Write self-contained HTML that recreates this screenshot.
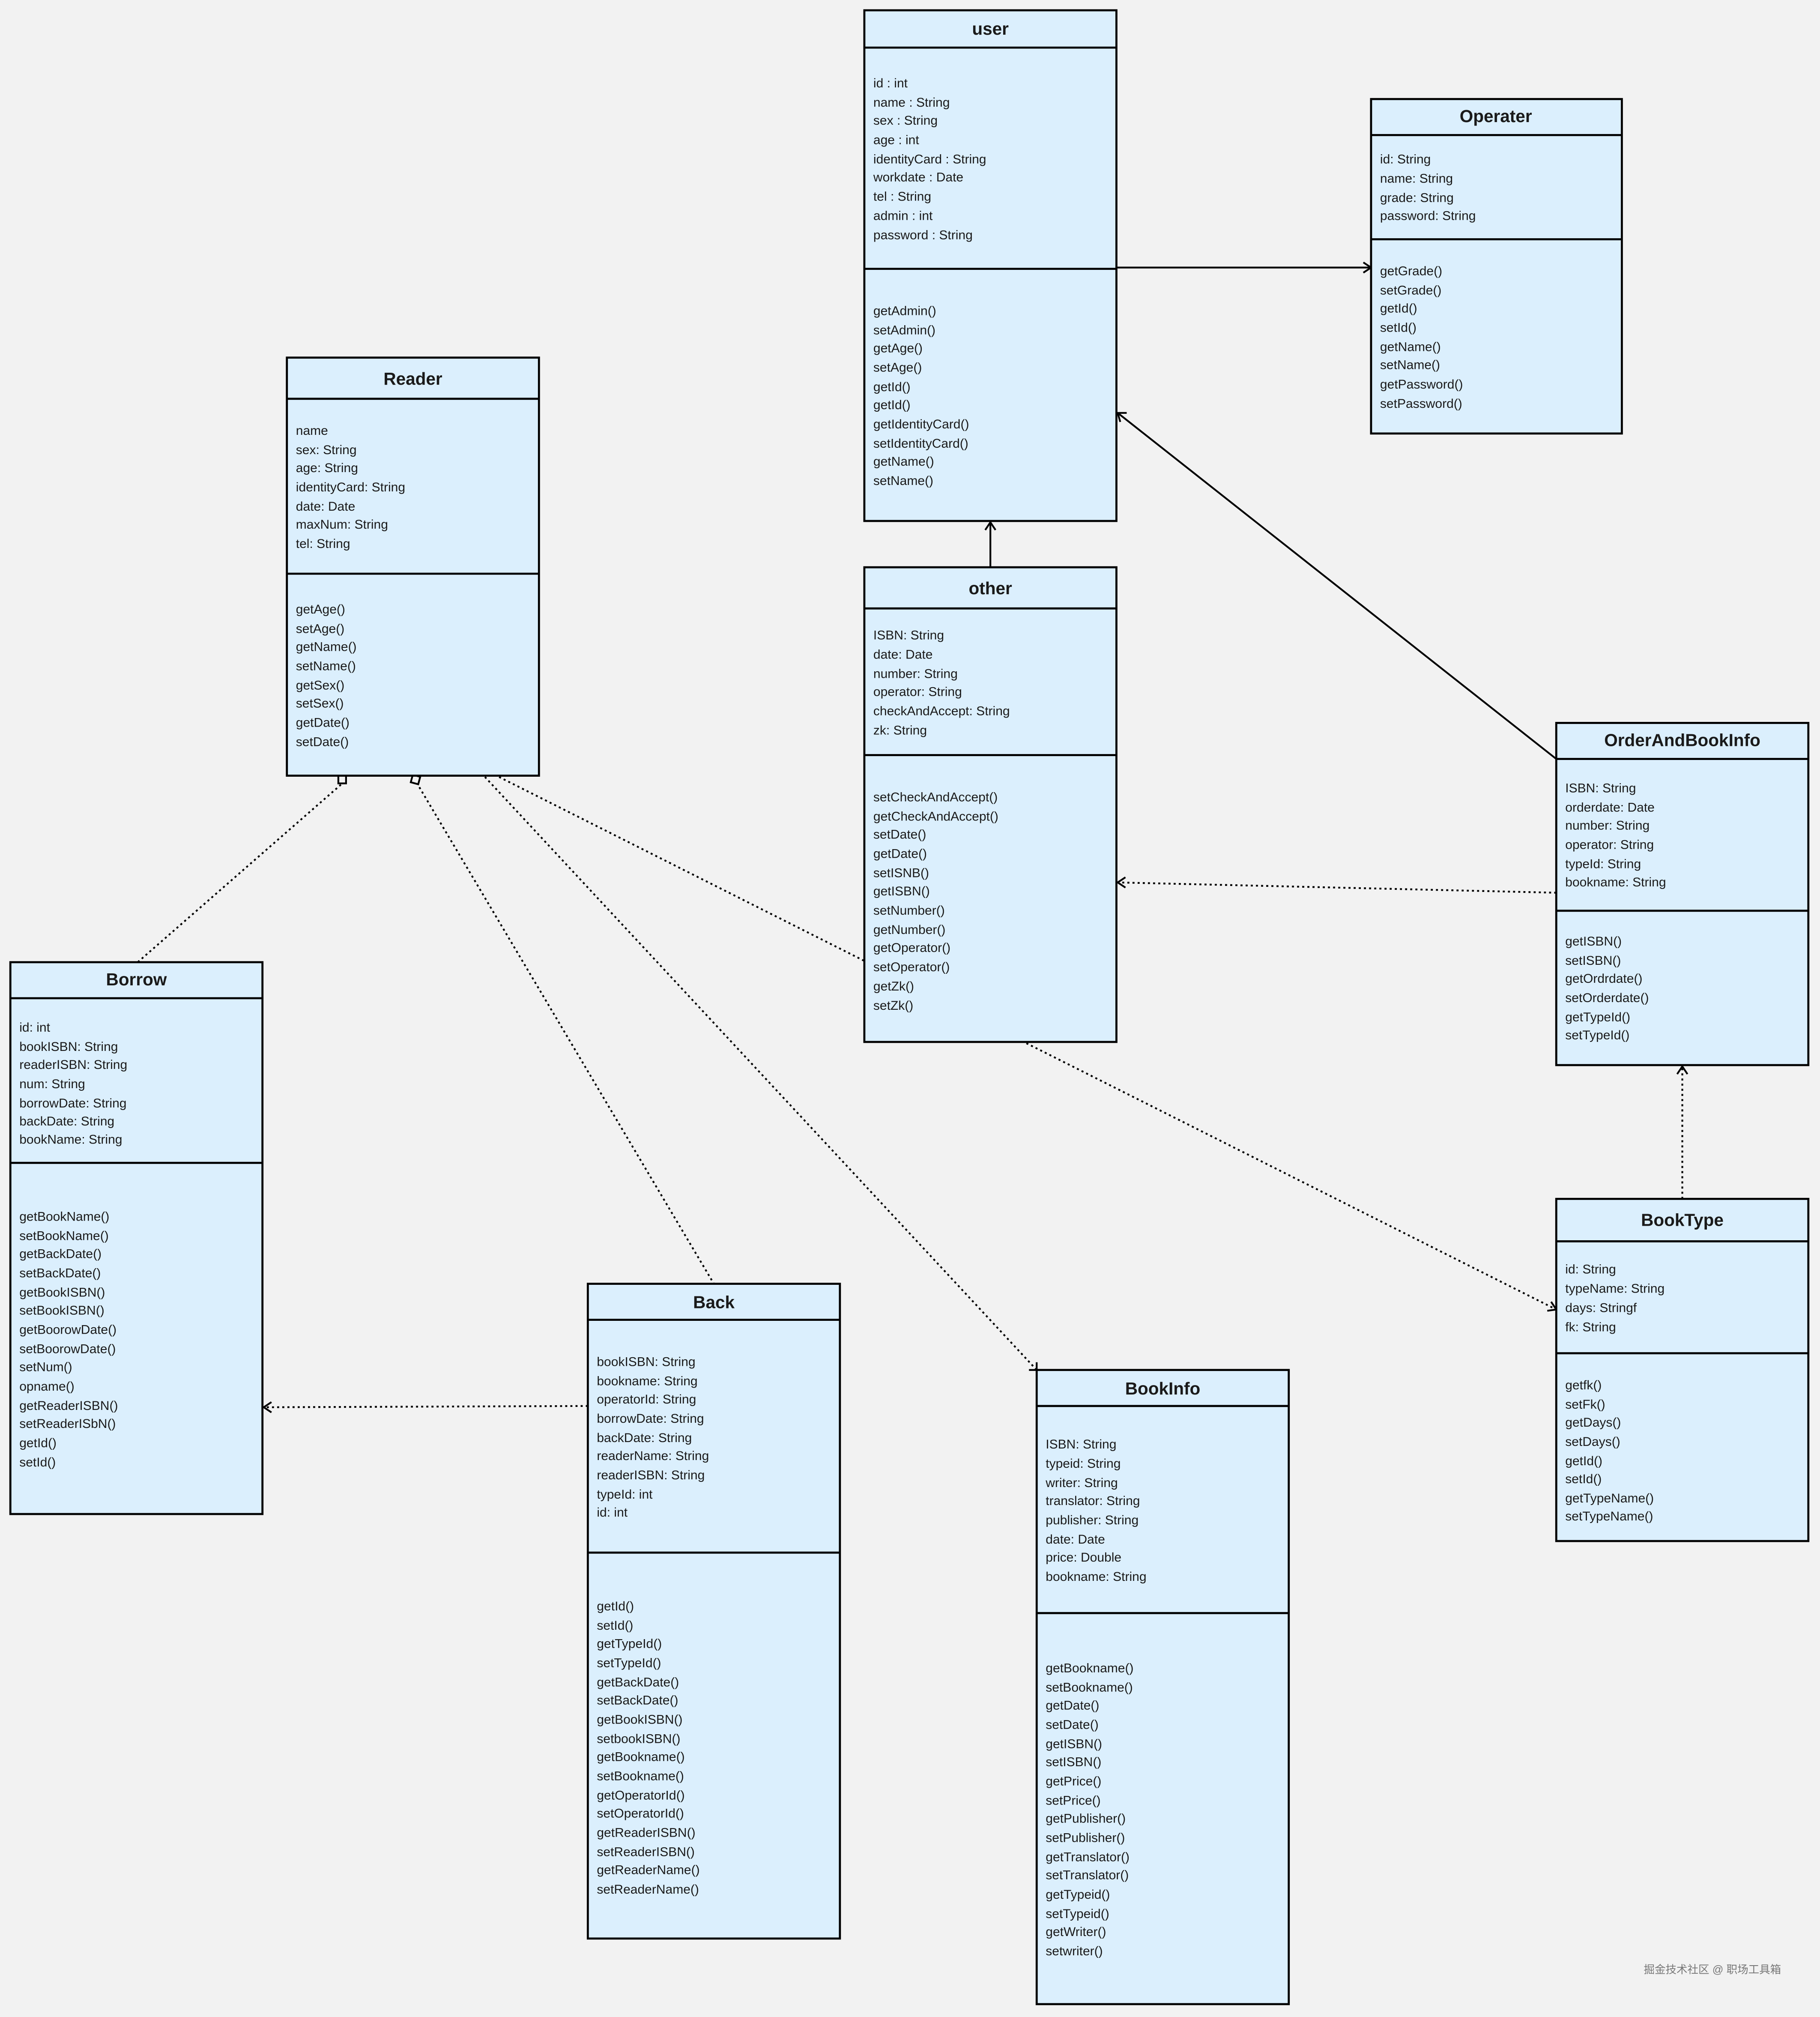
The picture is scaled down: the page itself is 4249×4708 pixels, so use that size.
<!DOCTYPE html>
<html><head><meta charset="utf-8"><style>
html,body{margin:0;padding:0;background:#f2f2f2;}
svg{display:block;}
text{font-family:"Liberation Sans","Noto Sans CJK SC",sans-serif;fill:#1a1a1a;}
.t{font-size:13.5px;font-weight:bold;text-anchor:middle;}
.a{font-size:10px;}
.box{fill:#dbeffd;stroke:#000;stroke-width:1.6;}
.ln{stroke:#000;stroke-width:1.6;}
.s{stroke:#000;stroke-width:1.4;fill:none;}
.d{stroke:#000;stroke-width:1.4;fill:none;stroke-dasharray:1.6 2.4;}
</style></head><body>
<svg width="4249" height="4708" viewBox="0 0 1415 1568" xmlns="http://www.w3.org/2000/svg">
<rect width="1415" height="1568" fill="#f2f2f2"/>

<!-- connectors -->
<line class="s" x1="868" y1="208" x2="1066" y2="208"/>
<polyline class="s" points="1060,204 1066,208 1060,212"/>
<line class="s" x1="770" y1="441" x2="770" y2="406"/>
<polyline class="s" points="766,412 770,406 774,412"/>
<line class="s" x1="1210" y1="590" x2="869" y2="321"/>
<polyline class="s" points="876,321 869,321 871,328"/>
<line class="d" x1="1210" y1="694" x2="869" y2="686"/>
<polyline class="s" points="875,682 869,686 875,690"/>
<line class="d" x1="1308" y1="932" x2="1308" y2="829"/>
<polyline class="s" points="1304,835 1308,829 1312,835"/>
<line class="d" x1="798" y1="811" x2="1210" y2="1018"/>
<polyline class="s" points="1203,1019 1210,1018 1206,1012"/>
<line class="d" x1="388" y1="604" x2="672" y2="747"/>
<line class="d" x1="377" y1="604" x2="806" y2="1065"/>
<polyline class="s" points="800,1065 806,1065 806,1059"/>
<line class="d" x1="326" y1="612" x2="555" y2="998"/>
<rect x="320" y="603" width="6" height="6" fill="#f2f2f2" stroke="#000" stroke-width="1.4" transform="rotate(15 323 606)"/>
<line class="d" x1="265" y1="610" x2="107" y2="748"/>
<rect x="263" y="603" width="6" height="6" fill="#f2f2f2" stroke="#000" stroke-width="1.4"/>
<line class="d" x1="457" y1="1093" x2="205" y2="1094"/>
<polyline class="s" points="211,1090 205,1094 211,1098"/>

<!-- user -->
<rect class="box" x="672" y="8" width="196" height="397"/>
<line class="ln" x1="672" y1="37" x2="868" y2="37"/><line class="ln" x1="672" y1="209" x2="868" y2="209"/>
<text class="t" x="770" y="27">user</text>
<g class="a"><text x="679" y="68">id : int</text><text x="679" y="83">name : String</text><text x="679" y="97">sex : String</text><text x="679" y="112">age : int</text><text x="679" y="127">identityCard : String</text><text x="679" y="141">workdate : Date</text><text x="679" y="156">tel : String</text><text x="679" y="171">admin : int</text><text x="679" y="186">password : String</text>
<text x="679" y="245">getAdmin()</text><text x="679" y="260">setAdmin()</text><text x="679" y="274">getAge()</text><text x="679" y="289">setAge()</text><text x="679" y="304">getId()</text><text x="679" y="318">getId()</text><text x="679" y="333">getIdentityCard()</text><text x="679" y="348">setIdentityCard()</text><text x="679" y="362">getName()</text><text x="679" y="377">setName()</text></g>

<!-- Operater -->
<rect class="box" x="1066" y="77" width="195" height="260"/>
<line class="ln" x1="1066" y1="105" x2="1261" y2="105"/><line class="ln" x1="1066" y1="186" x2="1261" y2="186"/>
<text class="t" x="1163" y="95">Operater</text>
<g class="a"><text x="1073" y="127">id: String</text><text x="1073" y="142">name: String</text><text x="1073" y="157">grade: String</text><text x="1073" y="171">password: String</text>
<text x="1073" y="214">getGrade()</text><text x="1073" y="229">setGrade()</text><text x="1073" y="243">getId()</text><text x="1073" y="258">setId()</text><text x="1073" y="273">getName()</text><text x="1073" y="287">setName()</text><text x="1073" y="302">getPassword()</text><text x="1073" y="317">setPassword()</text></g>

<!-- Reader -->
<rect class="box" x="223" y="278" width="196" height="325"/>
<line class="ln" x1="223" y1="310" x2="419" y2="310"/><line class="ln" x1="223" y1="446" x2="419" y2="446"/>
<text class="t" x="321" y="299">Reader</text>
<g class="a"><text x="230" y="338">name</text><text x="230" y="353">sex: String</text><text x="230" y="367">age: String</text><text x="230" y="382">identityCard: String</text><text x="230" y="397">date: Date</text><text x="230" y="411">maxNum: String</text><text x="230" y="426">tel: String</text>
<text x="230" y="477">getAge()</text><text x="230" y="492">setAge()</text><text x="230" y="506">getName()</text><text x="230" y="521">setName()</text><text x="230" y="536">getSex()</text><text x="230" y="550">setSex()</text><text x="230" y="565">getDate()</text><text x="230" y="580">setDate()</text></g>

<!-- other -->
<rect class="box" x="672" y="441" width="196" height="369"/>
<line class="ln" x1="672" y1="473" x2="868" y2="473"/><line class="ln" x1="672" y1="587" x2="868" y2="587"/>
<text class="t" x="770" y="462">other</text>
<g class="a"><text x="679" y="497">ISBN: String</text><text x="679" y="512">date: Date</text><text x="679" y="527">number: String</text><text x="679" y="541">operator: String</text><text x="679" y="556">checkAndAccept: String</text><text x="679" y="571">zk: String</text>
<text x="679" y="623">setCheckAndAccept()</text><text x="679" y="638">getCheckAndAccept()</text><text x="679" y="652">setDate()</text><text x="679" y="667">getDate()</text><text x="679" y="682">setISNB()</text><text x="679" y="696">getISBN()</text><text x="679" y="711">setNumber()</text><text x="679" y="726">getNumber()</text><text x="679" y="740">getOperator()</text><text x="679" y="755">setOperator()</text><text x="679" y="770">getZk()</text><text x="679" y="785">setZk()</text></g>

<!-- OrderAndBookInfo -->
<rect class="box" x="1210" y="562" width="196" height="266"/>
<line class="ln" x1="1210" y1="590" x2="1406" y2="590"/><line class="ln" x1="1210" y1="708" x2="1406" y2="708"/>
<text class="t" x="1308" y="580">OrderAndBookInfo</text>
<g class="a"><text x="1217" y="616">ISBN: String</text><text x="1217" y="631">orderdate: Date</text><text x="1217" y="645">number: String</text><text x="1217" y="660">operator: String</text><text x="1217" y="675">typeId: String</text><text x="1217" y="689">bookname: String</text>
<text x="1217" y="735">getISBN()</text><text x="1217" y="750">setISBN()</text><text x="1217" y="764">getOrdrdate()</text><text x="1217" y="779">setOrderdate()</text><text x="1217" y="794">getTypeId()</text><text x="1217" y="808">setTypeId()</text></g>

<!-- Borrow -->
<rect class="box" x="8" y="748" width="196" height="429"/>
<line class="ln" x1="8" y1="776" x2="204" y2="776"/><line class="ln" x1="8" y1="904" x2="204" y2="904"/>
<text class="t" x="106" y="766">Borrow</text>
<g class="a"><text x="15" y="802">id: int</text><text x="15" y="817">bookISBN: String</text><text x="15" y="831">readerISBN: String</text><text x="15" y="846">num: String</text><text x="15" y="861">borrowDate: String</text><text x="15" y="875">backDate: String</text><text x="15" y="889">bookName: String</text>
<text x="15" y="949">getBookName()</text><text x="15" y="964">setBookName()</text><text x="15" y="978">getBackDate()</text><text x="15" y="993">setBackDate()</text><text x="15" y="1008">getBookISBN()</text><text x="15" y="1022">setBookISBN()</text><text x="15" y="1037">getBoorowDate()</text><text x="15" y="1052">setBoorowDate()</text><text x="15" y="1066">setNum()</text><text x="15" y="1081">opname()</text><text x="15" y="1096">getReaderISBN()</text><text x="15" y="1110">setReaderISbN()</text><text x="15" y="1125">getId()</text><text x="15" y="1140">setId()</text></g>

<!-- Back -->
<rect class="box" x="457" y="998" width="196" height="509"/>
<line class="ln" x1="457" y1="1026" x2="653" y2="1026"/><line class="ln" x1="457" y1="1207" x2="653" y2="1207"/>
<text class="t" x="555" y="1017">Back</text>
<g class="a"><text x="464" y="1062">bookISBN: String</text><text x="464" y="1077">bookname: String</text><text x="464" y="1091">operatorId: String</text><text x="464" y="1106">borrowDate: String</text><text x="464" y="1121">backDate: String</text><text x="464" y="1135">readerName: String</text><text x="464" y="1150">readerISBN: String</text><text x="464" y="1165">typeId: int</text><text x="464" y="1179">id: int</text>
<text x="464" y="1252">getId()</text><text x="464" y="1267">setId()</text><text x="464" y="1281">getTypeId()</text><text x="464" y="1296">setTypeId()</text><text x="464" y="1311">getBackDate()</text><text x="464" y="1325">setBackDate()</text><text x="464" y="1340">getBookISBN()</text><text x="464" y="1355">setbookISBN()</text><text x="464" y="1369">getBookname()</text><text x="464" y="1384">setBookname()</text><text x="464" y="1399">getOperatorId()</text><text x="464" y="1413">setOperatorId()</text><text x="464" y="1428">getReaderISBN()</text><text x="464" y="1443">setReaderISBN()</text><text x="464" y="1457">getReaderName()</text><text x="464" y="1472">setReaderName()</text></g>

<!-- BookInfo -->
<rect class="box" x="806" y="1065" width="196" height="493"/>
<line class="ln" x1="806" y1="1093" x2="1002" y2="1093"/><line class="ln" x1="806" y1="1254" x2="1002" y2="1254"/>
<text class="t" x="904" y="1084">BookInfo</text>
<g class="a"><text x="813" y="1126">ISBN: String</text><text x="813" y="1141">typeid: String</text><text x="813" y="1156">writer: String</text><text x="813" y="1170">translator: String</text><text x="813" y="1185">publisher: String</text><text x="813" y="1200">date: Date</text><text x="813" y="1214">price: Double</text><text x="813" y="1229">bookname: String</text>
<text x="813" y="1300">getBookname()</text><text x="813" y="1315">setBookname()</text><text x="813" y="1329">getDate()</text><text x="813" y="1344">setDate()</text><text x="813" y="1359">getISBN()</text><text x="813" y="1373">setISBN()</text><text x="813" y="1388">getPrice()</text><text x="813" y="1403">setPrice()</text><text x="813" y="1417">getPublisher()</text><text x="813" y="1432">setPublisher()</text><text x="813" y="1447">getTranslator()</text><text x="813" y="1461">setTranslator()</text><text x="813" y="1476">getTypeid()</text><text x="813" y="1491">setTypeid()</text><text x="813" y="1505">getWriter()</text><text x="813" y="1520">setwriter()</text></g>

<!-- BookType -->
<rect class="box" x="1210" y="932" width="196" height="266"/>
<line class="ln" x1="1210" y1="965" x2="1406" y2="965"/><line class="ln" x1="1210" y1="1052" x2="1406" y2="1052"/>
<text class="t" x="1308" y="953">BookType</text>
<g class="a"><text x="1217" y="990">id: String</text><text x="1217" y="1005">typeName: String</text><text x="1217" y="1020">days: Stringf</text><text x="1217" y="1035">fk: String</text>
<text x="1217" y="1080">getfk()</text><text x="1217" y="1095">setFk()</text><text x="1217" y="1109">getDays()</text><text x="1217" y="1124">setDays()</text><text x="1217" y="1139">getId()</text><text x="1217" y="1153">setId()</text><text x="1217" y="1168">getTypeName()</text><text x="1217" y="1182">setTypeName()</text></g>
<rect x="1212" y="1184" width="192" height="12" fill="#dbeffd"/>

<text x="1278" y="1534" style="font-size:8.5px;fill:#777;">掘金技术社区 @ 职场工具箱</text>
</svg>
</body></html>
